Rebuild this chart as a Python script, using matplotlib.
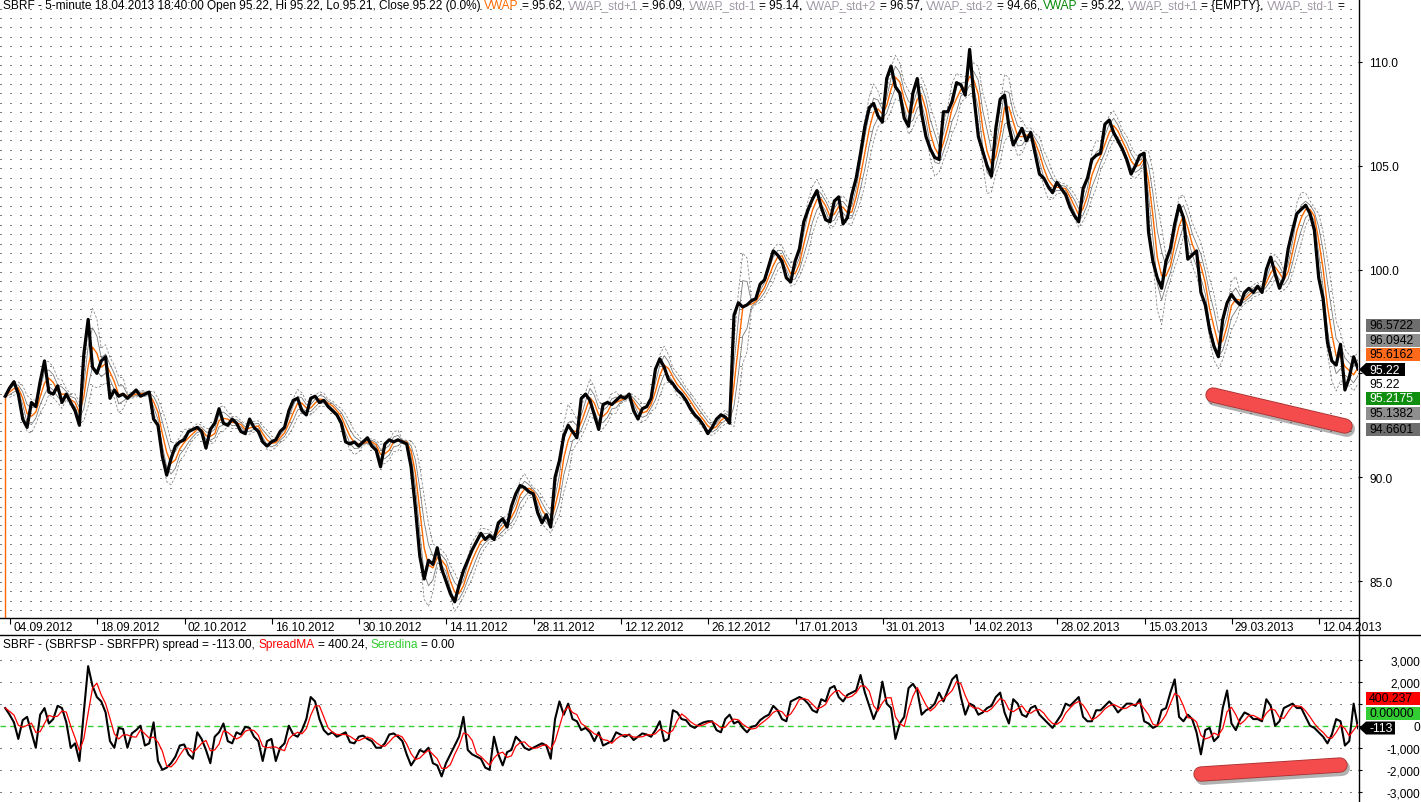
import numpy as np
import pandas as pd
import matplotlib
matplotlib.use("Agg")
import matplotlib.pyplot as plt
from matplotlib.lines import Line2D
from matplotlib.patches import Polygon
from matplotlib.transforms import offset_copy

plt.rcParams['font.family'] = ['Liberation Sans', 'DejaVu Sans']

# SBRF close, one value every half trading day
close = [
    93.9, 94.3, 94.6, 94.0, 92.8, 92.4, 93.6, 93.4, 94.6, 95.6,
    94.1, 94.0, 94.4, 93.6, 94.0, 93.6, 93.2, 92.5, 95.9, 97.6,
    95.3, 95.0, 95.6, 95.8, 93.8, 94.2, 93.9, 94.0, 93.8, 94.0,
    94.2, 93.9, 94.0, 94.1, 92.8, 92.5, 91.0, 90.1, 90.9, 91.5,
    91.7, 91.8, 92.2, 92.3, 92.4, 92.2, 91.4, 92.3, 92.6, 93.3,
    92.6, 92.5, 92.8, 92.6, 92.2, 92.1, 92.8, 92.4, 92.2, 91.7,
    91.5, 91.7, 91.8, 92.2, 92.4, 93.2, 93.7, 93.8, 93.2, 93.0,
    93.8, 93.9, 93.6, 93.7, 93.4, 93.2, 93.0, 92.6, 91.7, 91.6,
    91.7, 91.5, 91.7, 91.9, 91.5, 91.3, 90.5, 91.6, 91.8, 91.7,
    91.8, 91.7, 91.6, 90.5, 88.5, 86.2, 85.1, 86.0, 85.8, 86.6,
    85.6, 85.0, 84.4, 84.0, 84.8, 85.5, 86.0, 86.5, 86.9, 87.3,
    87.0, 87.2, 87.0, 87.8, 88.0, 87.6, 88.6, 89.2, 89.6, 89.5,
    89.3, 89.2, 88.3, 87.8, 88.2, 87.6, 90.0, 90.8, 92.0, 92.5,
    92.2, 91.9, 93.8, 94.0, 93.7, 93.0, 92.3, 93.5, 93.6, 93.5,
    93.7, 93.9, 93.8, 94.0, 93.2, 92.8, 93.3, 93.4, 93.8, 95.2,
    95.7, 95.3, 94.7, 94.5, 94.2, 94.0, 93.7, 93.3, 93.0, 92.8,
    92.5, 92.1, 92.4, 92.8, 93.0, 92.9, 92.6, 97.8, 98.4, 98.2,
    98.3, 98.5, 98.6, 99.3, 99.5, 100.2, 100.9, 100.7, 100.4, 99.6,
    99.4, 100.4, 101.0, 102.3, 102.9, 103.4, 103.8, 103.0, 102.4, 102.3,
    103.3, 103.5, 102.2, 102.5, 103.6, 104.4, 105.6, 106.9, 107.8, 108.0,
    107.4, 107.1, 109.2, 109.8, 108.8, 108.5, 107.3, 106.9, 108.5, 109.2,
    107.5, 106.4, 105.8, 105.4, 105.3, 107.6, 107.6, 108.1, 109.0, 108.9,
    108.4, 110.6, 108.3, 106.4, 105.7, 105.0, 104.5, 106.8, 108.2, 108.4,
    106.9, 106.0, 106.4, 106.8, 106.2, 106.6, 105.6, 104.6, 104.4, 104.0,
    103.7, 104.2, 103.9, 103.6, 103.0, 102.6, 102.3, 103.9, 104.4, 105.3,
    105.5, 105.6, 107.0, 107.2, 106.6, 106.2, 105.8, 105.3, 104.6, 105.0,
    105.5, 105.6, 101.8, 100.4, 99.6, 99.1, 100.4, 101.0, 102.2, 103.1,
    102.5, 100.5, 100.7, 100.9, 98.9, 98.3, 97.1, 96.3, 95.8, 97.6,
    98.4, 98.8, 98.5, 98.3, 98.9, 99.1, 98.9, 99.2, 98.9, 100.0,
    100.6, 99.8, 99.1, 99.6, 101.0, 101.9, 102.7, 102.9, 103.1, 102.7,
    101.9, 99.6, 98.6, 96.5, 95.6, 95.4, 96.4, 94.2, 94.8, 95.8,
    95.22,
]

# SBRFSP - SBRFPR spread, same sampling
spread = [
    800, 500, 150, -600, 250, 400, -300, -1000, 500, 800,
    100, 300, 900, 800, 150, -1000, -800, -1600, 600, 2700,
    1800, 1300, 1100, 600, -700, -1000, -100, -150, -1000, -350,
    -200, 0, -900, -800, 150, -1600, -2000, -1900, -1700, -1400,
    -900, -850, -1300, -1500, -300, -600, -1100, -1700, -500, -300,
    100, -700, -800, -300, -400, -50, -100, -500, -700, -1600,
    -700, -600, -1600, -1000, -800, 0, -400, -500, -200, 300,
    1300, 1100, 300, -200, -400, -300, -500, -400, -300, -750,
    -800, -500, -450, -600, -700, -1000, -1000, -800, -400, -350,
    -500, -700, -1300, -1800, -1500, -1100, -1200, -1000, -1700, -1800,
    -2300, -1700, -1300, -900, -500, 400, -1100, -1300, -1400, -1500,
    -1900, -2000, -500, -1300, -1800, -1200, -1100, -500, -700, -1000,
    -1100, -1000, -900, -800, -900, -1500, 300, 1100, 500, 1000,
    300, 200, -200, -100, -300, -700, -300, -900, -800, -700,
    -300, -400, -500, -400, -650, -500, -350, -400, -500, -200,
    200, -700, -600, 700, 600, 300, 250, 0, -100, 50,
    150, 200, 200, -200, -300, 300, 500, 100, 200, -100,
    -300, -50, 0, 250, 400, 500, 900, 700, 300, 200,
    1100, 1200, 1300, 1200, 1000, 700, 600, 1200, 1100, 1700,
    1800, 1300, 1100, 1400, 1500, 1600, 2300, 1500, 900, 300,
    800, 2000, 1000, 800, -600, 100, 400, 1700, 1900, 1600,
    500, 700, 800, 1000, 1500, 1100, 1600, 2100, 2300, 1300,
    500, 1000, 900, 500, 600, 800, 900, 1300, 1500, 600,
    100, 1200, 1000, 500, 400, 800, 900, 500, 300, 100,
    -100, 200, 500, 1000, 900, 1100, 1300, 400, 200, 200,
    700, 700, 900, 1100, 900, 600, 800, 1000, 1000, 900,
    1200, 200, 100, -100, 0, 700, 800, 1500, 2100, 400,
    200, 500, 300, -300, -1300, -200, -100, -700, -500, 800,
    1600, 100, -200, 300, 600, 500, 300, 300, 200, 1200,
    900, 0, 200, 800, 900, 1000, 800, 800, 400, 0,
    -100, -300, -500, -800, -400, 300, 200, -900, -700, 1000,
    -113,
]

tick_labels = ['04.09.2012', '18.09.2012', '02.10.2012', '16.10.2012', '30.10.2012',
               '14.11.2012', '28.11.2012', '12.12.2012', '26.12.2012', '17.01.2013',
               '31.01.2013', '14.02.2013', '28.02.2013', '15.03.2013', '29.03.2013',
               '12.04.2013']
tick_days = [0, 10, 20, 30, 40, 50, 60, 70, 80, 90, 100, 110, 120, 130, 140, 150]

price_ticks = [85, 90, 95, 100, 105, 110]
spread_ticks = [-3000, -2000, -1000, 0, 1000, 2000, 3000]
# tick values whose labels sit under the last-value boxes
hidden_price = [95]
hidden_spread = [1000]

# last values shown in the right margin (text, y pixel, face, text colour)
price_boxes = [('96.5722', 326, '#6e6e6e', 'black'),
               ('96.0942', 341, '#8e8e8e', 'black'),
               ('95.6162', 355.5, '#ff6a1a', 'black'),
               ('95.2175', 399.5, '#0f8f0f', 'white'),
               ('95.1382', 414.5, '#8e8e8e', 'black'),
               ('94.6601', 430, '#6e6e6e', 'black')]
spread_boxes = [('400.237', 699, '#ff0000', 'black'),
                ('0.00000', 714.5, '#33cc33', 'black')]

title_top = [('SBRF - 5-minute 18.04.2013 18:40:00 Open 95.22, Hi 95.22, Lo 95.21, Close 95.22 (0.0%) ', 'black'),
             ('VWAP', '#ff6a00'), (' = 95.62, ', 'black'),
             ('VWAP_std+1', '#a49aa8'), (' = 96.09, ', 'black'),
             ('VWAP_std-1', '#a49aa8'), (' = 95.14, ', 'black'),
             ('VWAP_std+2', '#a49aa8'), (' = 96.57, ', 'black'),
             ('VWAP_std-2', '#a49aa8'), (' = 94.66, ', 'black'),
             ('VWAP', '#008800'), (' = 95.22, ', 'black'),
             ('VWAP_std+1', '#a49aa8'), (' = {EMPTY}, ', 'black'),
             ('VWAP_std-1', '#a49aa8'), (' =', 'black')]
title_low = [('SBRF - (SBRFSP - SBRFPR) spread = -113.00, ', 'black'),
             ('SpreadMA', '#ff0000'), (' = 400.24, ', 'black'),
             ('Seredina', '#33cc33'), (' = 0.00', 'black')]

start_day, step_day = -0.55, 0.5
x = start_day + step_day * np.arange(len(close))
c = pd.Series(close)
vwap = c.rolling(3, min_periods=1).mean()
sd = c.rolling(5, min_periods=2).std().fillna(0)
s = pd.Series(spread)
spread_ma = s.rolling(3, min_periods=1).mean()

W, H = 1421, 803
AX_R = 1358
fig = plt.figure(figsize=(W / 100, H / 100), dpi=100)
fx = lambda px: px / W
fy = lambda py: 1 - py / H
FS = 8.6

ax = fig.add_axes([0, fy(619), fx(AX_R), 619 / H])
ax2 = fig.add_axes([0, 0, fx(AX_R), (803 - 636) / H])
for a in (ax, ax2):
    for sp in a.spines.values():
        sp.set_visible(False)
    a.set_xlim(-1.15, 154.45)

# price panel
ax.set_ylim(83.22, 113.03)
for py in np.arange(9.5, 619, 9.4):
    f = 1 - py / 619
    ax.plot([0, 1], [f, f], transform=ax.transAxes, color='black',
            lw=0.72, ls=(0, (1, 9)), zorder=0)
for k in (1, -1):
    ax.plot(x, vwap + 0.45 * k * sd, color='#7a7a7a', lw=0.6, zorder=1)
    ax.plot(x, vwap + 0.9 * k * sd, color='#8a8a8a', lw=0.6, ls=(0, (3, 2)), zorder=1)
ax.plot([x[0], x[0]], [0, vwap[0]], color='#ff6a00', lw=1.0, zorder=2)
ax.plot(x, vwap, color='#ff6a00', lw=1.0, zorder=2)
ax.plot(x, close, color='black', lw=2.3, zorder=3)

ax.set_xticks(tick_days)
ax.tick_params(axis='x', direction='out', length=4.5, width=0.8, labelbottom=False)
lab_tr = offset_copy(ax.get_xaxis_transform(), fig=fig, x=3, y=-9, units='dots')
for d, t in zip(tick_days, tick_labels):
    ax.text(d, 0, t, transform=lab_tr, fontsize=FS, va='center', ha='left', clip_on=False)

ax.yaxis.tick_right()
ax.set_yticks(price_ticks)
ax.set_yticklabels(['' if v in hidden_price else f'{v:.1f}' for v in price_ticks], fontsize=FS)
ax.tick_params(axis='y', direction='out', length=3, width=0.8, pad=5)

# spread panel
ax2.set_ylim(-3460, 4113)
for v in spread_ticks:
    if v != 0:
        ax2.axhline(v, color='black', lw=0.72, ls=(0, (1, 9)), zorder=0)
ax2.axhline(0, color='#33cc33', lw=1.0, ls=(0, (4, 3)), zorder=1)
ax2.plot(x, spread, color='black', lw=1.5, zorder=2)
ax2.plot(x, spread_ma, color='#ff0000', lw=0.9, zorder=3)
ax2.set_xticks([])
ax2.yaxis.tick_right()
ax2.set_yticks(spread_ticks)
ax2.set_yticklabels(['' if v in hidden_spread else f'{v:,}' for v in spread_ticks], fontsize=FS)
ax2.tick_params(axis='y', direction='out', length=3, width=0.8, pad=42)
for lbl in ax2.get_yticklabels():
    lbl.set_horizontalalignment('right')

# frame lines
fig.add_artist(Line2D([fx(AX_R + 0.5)] * 2, [0, 1], color='black', lw=1.0))
fig.add_artist(Line2D([0, fx(AX_R)], [fy(619)] * 2, color='black', lw=1.0))
fig.add_artist(Line2D([0, 1], [fy(636)] * 2, color='black', lw=1.0))

# multi-colour header lines
renderer = fig.canvas.get_renderer()
space_px = 0.278 * FS * 100 / 72


def header(x_px, y_px, parts):
    for txt, col in parts:
        lead = len(txt) - len(txt.lstrip(' '))
        trail = len(txt) - len(txt.rstrip(' '))
        x_px += lead * space_px
        body = txt.strip(' ')
        t = fig.text(fx(x_px), fy(y_px), body, color=col, fontsize=FS, va='center', ha='left')
        x_px += t.get_window_extent(renderer).width + trail * space_px


header(3, 6, title_top)
header(3, 645, title_low)


def value_box(txt, y, fc, tc, arrow=False, x1=1420, h=13):
    x0 = 1366
    if arrow:
        pts = [(1359, y), (x0, y - h / 2), (x1, y - h / 2), (x1, y + h / 2), (x0, y + h / 2)]
    else:
        pts = [(x0, y - h / 2), (x1, y - h / 2), (x1, y + h / 2), (x0, y + h / 2)]
    fig.add_artist(Polygon([(fx(a), fy(b)) for a, b in pts], closed=True,
                           transform=fig.transFigure, facecolor=fc, edgecolor='none'))
    fig.text(fx(x0 + 3), fy(y), txt, color=tc, fontsize=FS + 0.2, va='center', ha='left')


for txt, y, fc, tc in price_boxes:
    value_box(txt, y, fc, tc)
value_box('95.22', 370.5, 'black', 'white', arrow=True, x1=1405)
fig.text(fx(1369), fy(385), '95.22', color='black', fontsize=FS + 0.2, va='center', ha='left')
for txt, y, fc, tc in spread_boxes:
    value_box(txt, y, fc, tc)
value_box('-113', 729, 'black', 'white', arrow=True, x1=1395)


# red marker strokes drawn over the chart
def stroke(p0, p1):
    xs = [fx(p0[0]), fx(p1[0])]
    ys = [fy(p0[1]), fy(p1[1])]
    sx = [fx(p0[0] + 2), fx(p1[0] + 2)]
    sy = [fy(p0[1] + 3), fy(p1[1] + 3)]
    fig.add_artist(Line2D(sx, sy, color='#555555', alpha=0.45, lw=11.5, solid_capstyle='round'))
    fig.add_artist(Line2D(xs, ys, color='#a83030', lw=11.0, solid_capstyle='round'))
    fig.add_artist(Line2D(xs, ys, color='#f44c4c', lw=9.8, solid_capstyle='round'))


stroke((1213, 396), (1345, 427))
stroke((1201, 775), (1340, 766))

fig.savefig('out.png', dpi=100, facecolor='white')
